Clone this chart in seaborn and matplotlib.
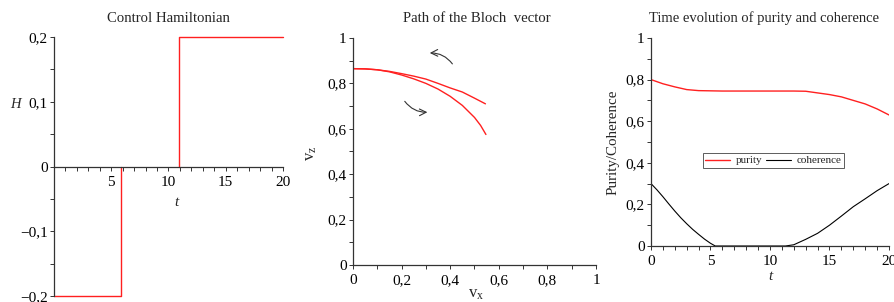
import matplotlib
matplotlib.use("Agg")
import matplotlib.pyplot as plt
import numpy as np
import pandas as pd
import seaborn as sns
from matplotlib.ticker import FuncFormatter, MultipleLocator

# control Hamiltonian (piecewise constant); the zero stretch lies on the axis
h_piece = ["neg", "neg", "neg", "pos", "pos", "pos"]
h_t = [0, 5.85, 5.85, 10.9, 10.9, 20]
h_val = [-0.2, -0.2, 0.0, 0.0, 0.2, 0.2]

# Bloch vector path, two branches
vx_upper = [0.0, 0.05, 0.1, 0.15, 0.2, 0.25, 0.3, 0.35, 0.4, 0.45, 0.5, 0.545]
vz_upper = [0.865, 0.864, 0.86, 0.853, 0.843, 0.832, 0.819, 0.8, 0.78, 0.762, 0.735, 0.71]
vx_lower = [0.0, 0.05, 0.1, 0.15, 0.2, 0.25, 0.3, 0.35, 0.4, 0.45, 0.5, 0.525, 0.547]
vz_lower = [0.865, 0.864, 0.86, 0.851, 0.837, 0.82, 0.8, 0.775, 0.743, 0.703, 0.65, 0.615, 0.575]

# purity / coherence over time
t_pur = [0, 1, 2, 3, 4, 5, 6, 7, 8, 9, 10, 11, 12, 13, 14, 15, 16, 17, 18, 19, 20]
purity = [0.8, 0.78, 0.765, 0.752, 0.747, 0.746, 0.745, 0.745, 0.745, 0.745, 0.745,
          0.745, 0.745, 0.744, 0.736, 0.728, 0.717, 0.70, 0.683, 0.659, 0.63]
t_coh = [0, 0.5, 1, 1.5, 2, 2.5, 3, 3.5, 4, 4.5, 5, 5.4, 6, 7, 8, 9, 10, 11, 11.3,
         12, 13, 14, 15, 16, 17, 18, 19, 20]
coherence = [0.30, 0.27, 0.237, 0.202, 0.168, 0.136, 0.107, 0.08, 0.056, 0.033, 0.013,
             0.0, 0.0, 0.0, 0.0, 0.0, 0.0, 0.0, 0.0,
             0.006, 0.032, 0.061, 0.10, 0.144, 0.189, 0.227, 0.266, 0.30]

sns.set_theme(style="ticks")
plt.rcParams["font.family"] = ["Liberation Serif", "DejaVu Serif"]
plt.rcParams["mathtext.fontset"] = "stix"

RED = "#ff2020"
AXC = "#333333"
comma = FuncFormatter(lambda v, _: "0" if abs(v) < 1e-9 else
                      ("%g" % round(v, 3)).replace(".", ",").replace("-", "\u2212"))


def style_axis(ax):
    for side in ("top", "right"):
        ax.spines[side].set_visible(False)
    for side in ("left", "bottom"):
        ax.spines[side].set_color(AXC)
        ax.spines[side].set_linewidth(0.9)
        ax.spines[side].set_zorder(5)
    ax.tick_params(which="both", direction="out", length=3, width=0.7,
                   colors=AXC, labelcolor="black", labelsize=11)
    ax.tick_params(axis="x", pad=3.5)
    ax.tick_params(axis="y", pad=1.5)
    ax.set_xlabel("")
    ax.set_ylabel("")


fig = plt.figure(figsize=(8.95, 3.02), dpi=100)
W, H = 895, 302


def axes_px(x0, y0, x1, y1):
    return fig.add_axes([x0 / W, 1 - y1 / H, (x1 - x0) / W, (y1 - y0) / H])


# panel 1
ax1 = axes_px(54, 37, 283, 296)
ham = pd.DataFrame({"t": h_t, "H": h_val, "piece": h_piece})
sns.lineplot(data=ham, x="t", y="H", units="piece", sort=False, estimator=None,
             color=RED, lw=1.0, ax=ax1)
for ln in ax1.lines:
    ln.set_clip_on(False)
ax1.set_xlim(0, 20)
ax1.set_ylim(-0.2, 0.2)
style_axis(ax1)
ax1.spines["bottom"].set_position(("data", 0))
ax1.xaxis.set_major_locator(MultipleLocator(5))
ax1.xaxis.set_minor_locator(MultipleLocator(1))
ax1.yaxis.set_major_locator(MultipleLocator(0.1))
ax1.yaxis.set_minor_locator(MultipleLocator(0.05))
ax1.xaxis.set_major_formatter(FuncFormatter(lambda v, _: "" if v == 0 else "%d" % v))
ax1.yaxis.set_major_formatter(comma)
fig.text(168 / W, 1 - 18 / H, "Control Hamiltonian", ha="center", va="center", fontsize=10.6)
fig.text(176 / W, 1 - 203 / H, "t", style="italic", ha="center", va="center", fontsize=11)
fig.text(15 / W, 1 - 105 / H, "H", style="italic", ha="center", va="center", fontsize=10.5)

# panel 2
ax2 = axes_px(353, 38, 596, 265)
sns.lineplot(x=vx_upper, y=vz_upper, sort=False, estimator=None, color=RED, lw=1.0, ax=ax2)
sns.lineplot(x=vx_lower, y=vz_lower, sort=False, estimator=None, color=RED, lw=1.0, ax=ax2)
ax2.annotate("", xy=(0.316, 0.934), xytext=(0.409, 0.886),
             arrowprops=dict(arrowstyle="->", color=AXC, lw=0.8,
                             connectionstyle="arc3,rad=0.25", shrinkA=0, shrinkB=0))
ax2.annotate("", xy=(0.306, 0.673), xytext=(0.213, 0.721),
             arrowprops=dict(arrowstyle="->", color=AXC, lw=0.8,
                             connectionstyle="arc3,rad=0.25", shrinkA=0, shrinkB=0))
ax2.set_xlim(0, 1)
ax2.set_ylim(0, 1)
style_axis(ax2)
for axis in (ax2.xaxis, ax2.yaxis):
    axis.set_major_locator(MultipleLocator(0.2))
    axis.set_minor_locator(MultipleLocator(0.1))
    axis.set_major_formatter(comma)
fig.text(477 / W, 1 - 18 / H, "Path of the Bloch  vector", ha="center", va="center",
         fontsize=10.6)
fig.text(476 / W, 1 - 294 / H, r"$\mathregular{v_x}$", ha="center", va="center", fontsize=12)
fig.text(311 / W, 1 - 153 / H, r"$\mathregular{v_z}$", ha="center", va="center",
         rotation=90, fontsize=12)

# panel 3
ax3 = axes_px(651, 38, 889, 246)
sns.lineplot(x=t_pur, y=purity, color=RED, lw=1.0, label="purity", ax=ax3)
sns.lineplot(x=t_coh, y=coherence, color="black", lw=0.8, label="coherence", ax=ax3)
ax3.set_xlim(0, 20)
ax3.set_ylim(0, 1)
style_axis(ax3)
ax3.xaxis.set_major_locator(MultipleLocator(5))
ax3.xaxis.set_minor_locator(MultipleLocator(1))
ax3.yaxis.set_major_locator(MultipleLocator(0.2))
ax3.yaxis.set_minor_locator(MultipleLocator(0.1))
ax3.xaxis.set_major_formatter(FuncFormatter(lambda v, _: "%d" % v))
ax3.yaxis.set_major_formatter(comma)
leg = ax3.legend(loc="center", bbox_to_anchor=(0.514, 0.411), ncol=2, fontsize=8,
                 frameon=True, fancybox=False, handlelength=2.25, columnspacing=0.4,
                 handletextpad=0.45, borderpad=0.2, borderaxespad=0)
leg.get_frame().set_edgecolor(AXC)
leg.get_frame().set_linewidth(0.7)
fig.text(764 / W, 1 - 18 / H, "Time evolution of purity and coherence",
         ha="center", va="center", fontsize=10.5)
fig.text(770 / W, 1 - 276 / H, "t", style="italic", ha="center", va="center", fontsize=11)
fig.text(613 / W, 1 - 142 / H, "Purity/Coherence", ha="center", va="center",
         rotation=90, fontsize=10.8)

fig.savefig("out.png", dpi=100)
